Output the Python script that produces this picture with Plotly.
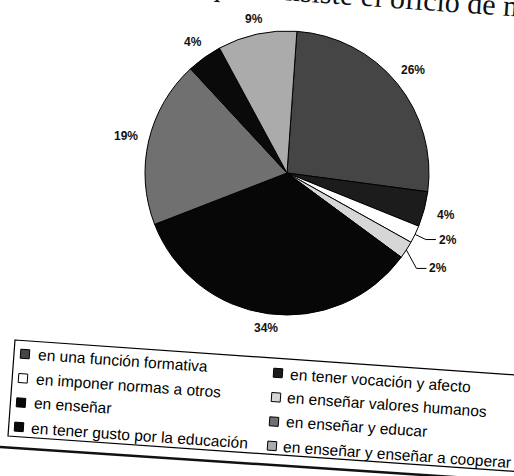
import math
import plotly.graph_objects as go

# ---------------- data ----------------
categories = [
    "en una función formativa",
    "en tener vocación y afecto",
    "en imponer normas a otros",
    "en enseñar valores humanos",
    "en enseñar",
    "en enseñar y educar",
    "en tener gusto por la educación",
    "en enseñar y enseñar a cooperar",
]
values = [26, 4, 2, 2, 34, 19, 4, 9]
colors = ["#454545", "#1c1c1c", "#ffffff", "#d6d6d6",
          "#070707", "#707070", "#0a0a0a", "#ababab"]
heading = "qué consiste el oficio de maestro?"

# ---------------- geometry helpers ----------------
W, H = 514, 476
TILT = 4.0  # scan tilt in degrees (clockwise)
st, ct = math.sin(math.radians(TILT)), math.cos(math.radians(TILT))


def px(x):
    return x / W


def py(y):
    return 1 - y / H


def path_of(pts, close=False):
    s = "M " + " L ".join(f"{px(x):.5f} {py(y):.5f}" for x, y in pts)
    return s + (" Z" if close else "")


cx, cy, r = 287, 173, 142

fig = go.Figure(
    go.Pie(
        labels=categories,
        values=values,
        sort=False,
        direction="clockwise",
        rotation=TILT,
        marker=dict(colors=colors, line=dict(color="#000000", width=1)),
        textinfo="none",
        domain=dict(x=[px(cx - r), px(cx + r)], y=[py(cy + r), py(cy - r)]),
        showlegend=False,
        hoverinfo="label+percent",
    )
)

shapes = []
annotations = []
LBL_FONT = dict(family="Liberation Sans, Arial, sans-serif", size=12, color="#111111")

# percentage labels, placed from the cumulative share of each slice
total = sum(values)
cum = 0.0
k_small = 0
for v in values:
    mid = math.radians(TILT + 360.0 * (cum + v / 2.0) / total)
    cum += v
    sx, sy = math.sin(mid), -math.cos(mid)
    txt = f"<b>{round(100 * v / total)}%</b>"
    if v / total < 0.03:
        ex, ey = cx + r * sx, cy + r * sy
        bx, by = cx + (r + 12) * sx, cy + (r + 12) * sy + 12 * k_small
        shapes.append(dict(
            type="path", xref="paper", yref="paper",
            path=path_of([(ex, ey), (bx, by), (bx + 10, by)]),
            line=dict(color="#000000", width=1),
        ))
        annotations.append(dict(
            text=txt, xref="paper", yref="paper", showarrow=False,
            x=px(bx + 11), y=py(by), xanchor="left", yanchor="middle",
            font=LBL_FONT,
        ))
        k_small += 1
    else:
        rl = r + 13 + 10 * abs(sx)
        annotations.append(dict(
            text=txt, xref="paper", yref="paper", showarrow=False,
            x=px(cx + rl * sx), y=py(cy + rl * sy),
            xanchor="center", yanchor="middle", font=LBL_FONT,
        ))


def rot_square(xc, yc, s):
    pts = []
    for dx, dy in [(-s, -s), (s, -s), (s, s), (-s, s)]:
        pts.append((xc + dx * ct - dy * st, yc + dx * st + dy * ct))
    return path_of(pts, close=True)


# legend box (tilted)
box = [(15, 340), (530, 376), (523, 472), (8, 436)]
shapes.append(dict(
    type="path", xref="paper", yref="paper", path=path_of(box, close=True),
    line=dict(color="#000000", width=1.2), fillcolor="rgba(0,0,0,0)", layer="below",
))
# page rule under the legend
shapes.append(dict(
    type="line", xref="paper", yref="paper",
    x0=px(0), y0=py(447), x1=px(514), y1=py(481),
    line=dict(color="#111111", width=2.5),
))

# legend entries: two columns, row-major
LEG_FONT = 15.5
for i, (cat, col_) in enumerate(zip(categories, colors)):
    c, rrow = i % 2, i // 2
    mx = 25 + 253 * c - 2 * rrow
    my = 354 + 19 * c + 24.3 * rrow
    shapes.append(dict(
        type="path", xref="paper", yref="paper", path=rot_square(mx, my, 4.5),
        line=dict(color="#000000", width=1), fillcolor=col_,
    ))
    tx = mx + (10 if c == 0 else 9)
    w_est = len(cat) * 7.2
    annotations.append(dict(
        text=cat, xref="paper", yref="paper", showarrow=False,
        x=px(tx), y=py(my + 0.5 + (w_est / 2) * st),
        xanchor="left", yanchor="middle", textangle=TILT,
        font=dict(family="Liberation Sans, Arial, sans-serif", size=LEG_FONT, color="#000000"),
    ))

# cut-off heading of the scanned page
annotations.append(dict(
    text=heading, xref="paper", yref="paper", showarrow=False,
    x=px(409), y=py(-2), xanchor="center", yanchor="middle", textangle=TILT,
    font=dict(family="Liberation Serif, Times New Roman, serif", size=30, color="#111111"),
))

fig.update_layout(
    width=W, height=H,
    margin=dict(l=0, r=0, t=0, b=0),
    paper_bgcolor="#ffffff", plot_bgcolor="#ffffff",
    shapes=shapes, annotations=annotations,
    showlegend=False,
)

fig.write_html("out.html")
